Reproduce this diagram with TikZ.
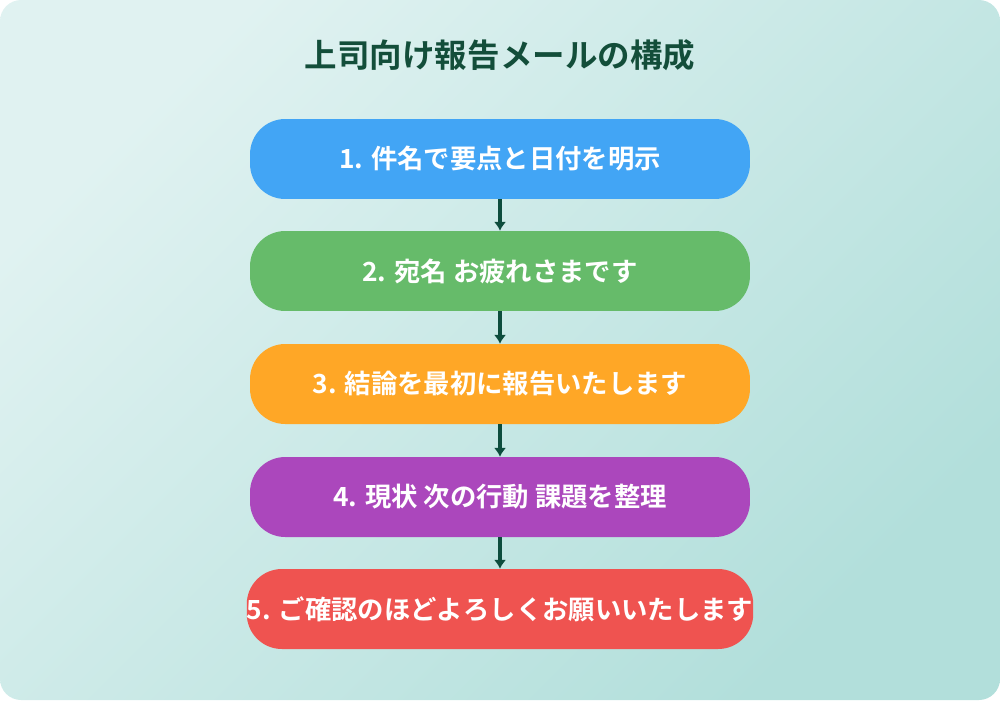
\documentclass[tikz,border=0pt]{standalone}
\usepackage{fontspec}
\setmainfont{Noto Sans CJK JP}[BoldFont={Noto Sans CJK JP Bold}]
\definecolor{bgA}{HTML}{E0F2F1}
\definecolor{bgB}{HTML}{B2DFDB}
\definecolor{titlegreen}{HTML}{134E3A}
\definecolor{arrowgreen}{HTML}{0D4D3D}
\definecolor{stepblue}{HTML}{42A5F5}
\definecolor{stepgreen}{HTML}{66BB6A}
\definecolor{steporange}{HTML}{FFA726}
\definecolor{steppurple}{HTML}{AB47BC}
\definecolor{stepred}{HTML}{EF5350}
\tikzset{
    stepbox/.style={rectangle, rounded corners=20pt, minimum width=10cm, minimum height=1.6cm,
        text=white, font=\bfseries\fontsize{15}{17}\selectfont, inner sep=0pt},
    flow/.style={draw=arrowgreen, line width=2pt, -{Latex[length=5pt,width=7pt]}}
}
\usetikzlibrary{arrows.meta}
\begin{document}
\begin{tikzpicture}[x=0.02cm, y=-0.02cm]
    \useasboundingbox (0,0) rectangle (1000,700);
    \shade[rounded corners=12pt, left color=bgA, right color=bgB, shading angle=45] (0,0) rectangle (1000,700);

    \node (title) [text=titlegreen, font=\bfseries\fontsize{18.5}{20}\selectfont] at (500,55) {上司向け報告メールの構成};

    \node (s1) [stepbox, fill=stepblue] at (500,159) {1. 件名で要点と日付を明示};
    \node (s2) [stepbox, fill=stepgreen] at (500,271) {2. 宛名 お疲れさまです};
    \node (s3) [stepbox, fill=steporange] at (500,384) {3. 結論を最初に報告いたします};
    \node (s4) [stepbox, fill=steppurple] at (500,497) {4. 現状 次の行動 課題を整理};
    \node (s5) [stepbox, fill=stepred] at (500,609) {5. ご確認のほどよろしくお願いいたします};

    \draw[flow] (s1) -- (s2);
    \draw[flow] (s2) -- (s3);
    \draw[flow] (s3) -- (s4);
    \draw[flow] (s4) -- (s5);
\end{tikzpicture}
\end{document}
